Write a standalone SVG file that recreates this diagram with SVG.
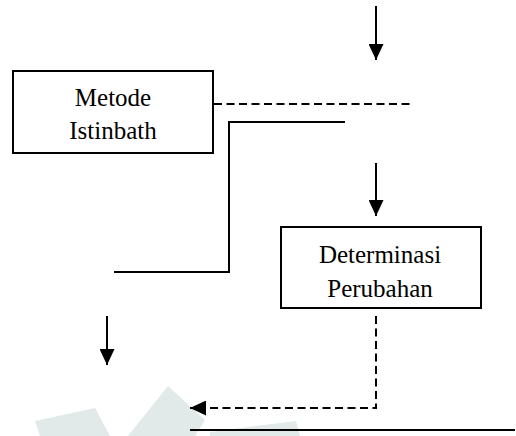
<svg xmlns="http://www.w3.org/2000/svg" width="516" height="436" viewBox="0 0 516 436">
  <style>
    .box { fill: #ffffff; stroke: #000000; stroke-width: 2; }
    .lbl { font-family: "Liberation Serif", "Times New Roman", serif; font-size: 25px; fill: #000000; text-anchor: middle; }
    .solid { fill: none; stroke: #000000; stroke-width: 2; }
    .dash { fill: none; stroke: #000000; stroke-width: 2; stroke-dasharray: 8 4.5; }
    .wm { fill: #e2e9e9; stroke: none; }
  </style>
  <defs>
    <marker id="arr" viewBox="0 0 16 15" refX="16" refY="7.5" markerWidth="16" markerHeight="15" markerUnits="userSpaceOnUse" orient="auto">
      <path d="M0,0 L16,7.5 L0,15 Z" fill="#000000"/>
    </marker>
  </defs>
  <rect width="516" height="436" fill="#ffffff"/>
  <g id="watermark">
    <polygon class="wm" points="35,421 95,408 110,436 40,436"/>
    <polygon class="wm" points="168,386 205,420 195,436 128,436"/>
    <polygon class="wm" points="210,432 296,421 300,436 210,436"/>
  </g>
  <g id="connectors">
    <line class="solid" x1="376" y1="6" x2="376" y2="60" marker-end="url(#arr)"/>
    <line class="dash" x1="214" y1="104" x2="412" y2="104"/>
    <polyline class="solid" points="345,122 229,122 229,272 114,272"/>
    <line class="solid" x1="376" y1="163" x2="376" y2="216" marker-end="url(#arr)"/>
    <polyline class="dash" points="376,316 376,408 190,408" marker-end="url(#arr)"/>
    <line class="solid" x1="107" y1="316" x2="107" y2="365" marker-end="url(#arr)"/>
    <line class="solid" x1="190" y1="430" x2="515" y2="430"/>
  </g>
  <g id="node-metode">
    <rect class="box" x="13" y="71" width="200" height="82"/>
    <text class="lbl" x="113" y="106">Metode</text>
    <text class="lbl" x="113" y="139">Istinbath</text>
  </g>
  <g id="node-determinasi">
    <rect class="box" x="281" y="227" width="200" height="81"/>
    <text class="lbl" x="380" y="263">Determinasi</text>
    <text class="lbl" x="380" y="297">Perubahan</text>
  </g>
</svg>
